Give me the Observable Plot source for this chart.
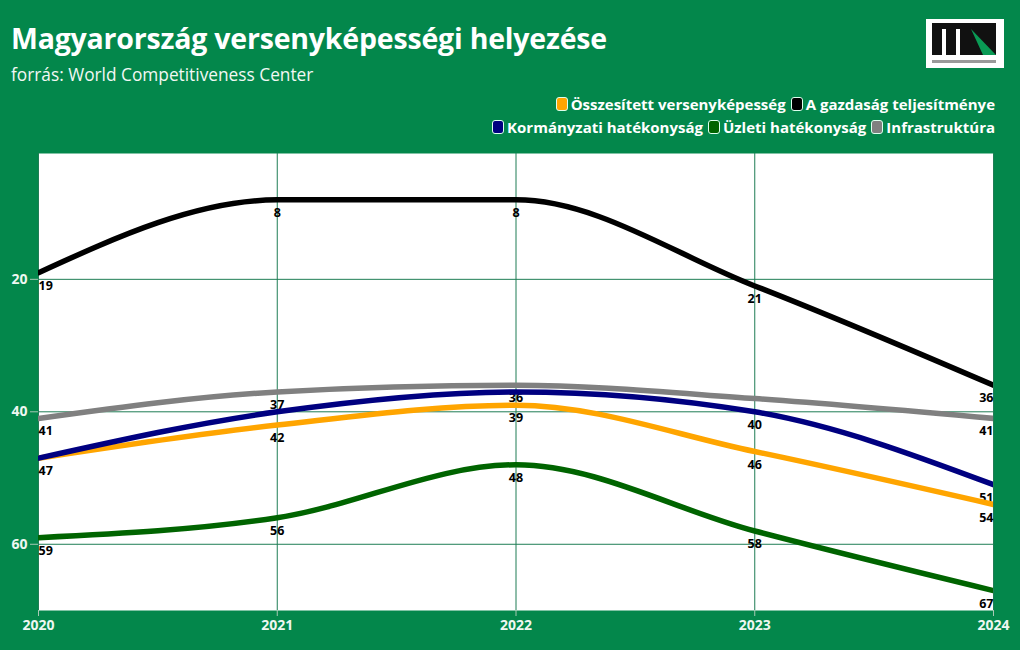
<!DOCTYPE html>
<html>
<head>
<meta charset="utf-8">
<script src="https://cdn.jsdelivr.net/npm/d3@7"></script>
<script src="https://cdn.jsdelivr.net/npm/@observablehq/plot@0.6"></script>
<style>
  html, body { margin: 0; padding: 0; background: #03874b; }
  #wrap { position: relative; width: 1020px; height: 650px; background: #03874b; overflow: hidden; font-family: "Open Sans", Lato, sans-serif; }
  #title { position: absolute; left: 11px; top: 17px; color: #fff; font-weight: 700; font-size: 28.5px; line-height: 42px; white-space: nowrap; letter-spacing: -0.2px; }
  #subtitle { position: absolute; left: 11px; top: 62px; color: #f2f8f4; font-weight: 400; font-size: 17.3px; line-height: 26px; white-space: nowrap; }
  #legend { position: absolute; right: 25px; top: 93px; width: 700px; text-align: right; color: #fff; font-weight: 700; font-size: 15px; line-height: 23px; }
  .item { display: inline-block; margin-left: 5px; white-space: nowrap; }
  .sw { display: inline-block; width: 10px; height: 12px; border-radius: 3px; border: 1px solid #dfe; vertical-align: -1px; margin-right: 3px; }
  #plot { position: absolute; left: 0; top: 143px; }
  #logo { position: absolute; left: 926px; top: 19px; }
</style>
</head>
<body>
<div id="wrap">
  <div id="title">Magyarország versenyképességi helyezése</div>
  <div id="subtitle">forrás: World Competitiveness Center</div>
  <div id="legend"></div>
  <svg id="logo" width="78" height="49" viewBox="0 0 78 49">
    <rect x="0" y="0" width="78" height="49" fill="#ffffff"/>
    <rect x="6" y="4" width="64" height="32" fill="#111"/>
    <rect x="16" y="10" width="4" height="26" fill="#fff"/>
    <rect x="30" y="10" width="4" height="26" fill="#fff"/>
    <polygon points="45,10 70,36 57,36" fill="#0a9a55"/>
    <rect x="6" y="41" width="64" height="3" fill="#9a9a9a"/>
  </svg>
  <div id="plot"></div>
</div>
<script>
const years = [2020, 2021, 2022, 2023, 2024];
const seriesNames = ["Összesített versenyképesség", "A gazdaság teljesítménye", "Kormányzati hatékonyság", "Üzleti hatékonyság", "Infrastruktúra"];
const seriesColors = ["#ffa500", "#000000", "#000080", "#006400", "#808080"];
const osszesitett = [47, 42, 39, 46, 54];
const gazdasag = [19, 8, 8, 21, 36];
const kormanyzati = [47, 40, 37, 40, 51];
const uzleti = [59, 56, 48, 58, 67];
const infrastruktura = [41, 37, 36, 38, 41];
const yTicks = [20, 40, 60];

const seriesValues = [osszesitett, gazdasag, kormanyzati, uzleti, infrastruktura];
const data = [];
seriesNames.forEach((name, i) => {
  years.forEach((yr, j) => data.push({ series: name, year: yr, value: seriesValues[i][j] }));
});

// labels: hide a label that would collide with an earlier series' label in the same year
const shownLabels = [];
years.forEach(yr => {
  const kept = [];
  data.filter(d => d.year === yr).forEach(d => {
    if (kept.every(k => Math.abs(k.value - d.value) > 2.5)) { kept.push(d); shownLabels.push(d); }
  });
});

// legend
const legend = document.getElementById("legend");
const rows = [[0, 1], [2, 3, 4]];
rows.forEach(r => {
  const div = document.createElement("div");
  r.forEach(i => {
    const s = document.createElement("span");
    s.className = "item";
    s.innerHTML = `<span class="sw" style="background:${seriesColors[i]}"></span>${seriesNames[i]}`;
    div.appendChild(s);
  });
  legend.appendChild(div);
});

const gridColor = "#1f7d55";
const labelStyle = { fill: "#000", fontSize: 12.5, fontWeight: 700, fontFamily: "'Open Sans', sans-serif", dy: 13 };

const chart = Plot.plot({
  width: 1020,
  height: 507,
  marginTop: 10,
  marginBottom: 40,
  marginLeft: 38,
  marginRight: 27,
  style: { background: "transparent", fontFamily: "'Open Sans', sans-serif" },
  x: { domain: [2020, 2024], ticks: years, tickFormat: d => String(d), label: null },
  y: { domain: [1, 70], reverse: true, ticks: yTicks, label: null },
  color: { domain: seriesNames, range: seriesColors },
  marks: [
    Plot.frame({ fill: "white", stroke: "none" }),
    Plot.gridX(years, { stroke: gridColor, strokeOpacity: 1, strokeWidth: 1 }),
    Plot.gridY(yTicks, { stroke: gridColor, strokeOpacity: 1, strokeWidth: 1 }),
    Plot.text(shownLabels.filter(d => d.year === 2020), { x: "year", y: "value", text: d => String(d.value), textAnchor: "start", ...labelStyle }),
    Plot.text(shownLabels.filter(d => d.year > 2020 && d.year < 2024), { x: "year", y: "value", text: d => String(d.value), textAnchor: "middle", ...labelStyle }),
    Plot.text(shownLabels.filter(d => d.year === 2024), { x: "year", y: "value", text: d => String(d.value), textAnchor: "end", ...labelStyle }),
    Plot.line(data, { x: "year", y: "value", z: "series", stroke: "series", strokeWidth: 5.5, curve: "monotone-x", clip: true }),
    Plot.axisX({ ticks: years, tickFormat: d => String(d), label: null, tickSize: 6, stroke: "#a9c9b5", fill: "#eef7f1", fontSize: 14, fontWeight: 700, tickPadding: 4 }),
    Plot.axisY({ ticks: yTicks, label: null, tickSize: 8, stroke: "#a9c9b5", fill: "#eef7f1", fontSize: 14, fontWeight: 700, tickPadding: 3 })
  ]
});
document.getElementById("plot").appendChild(chart);
</script>
</body>
</html>
